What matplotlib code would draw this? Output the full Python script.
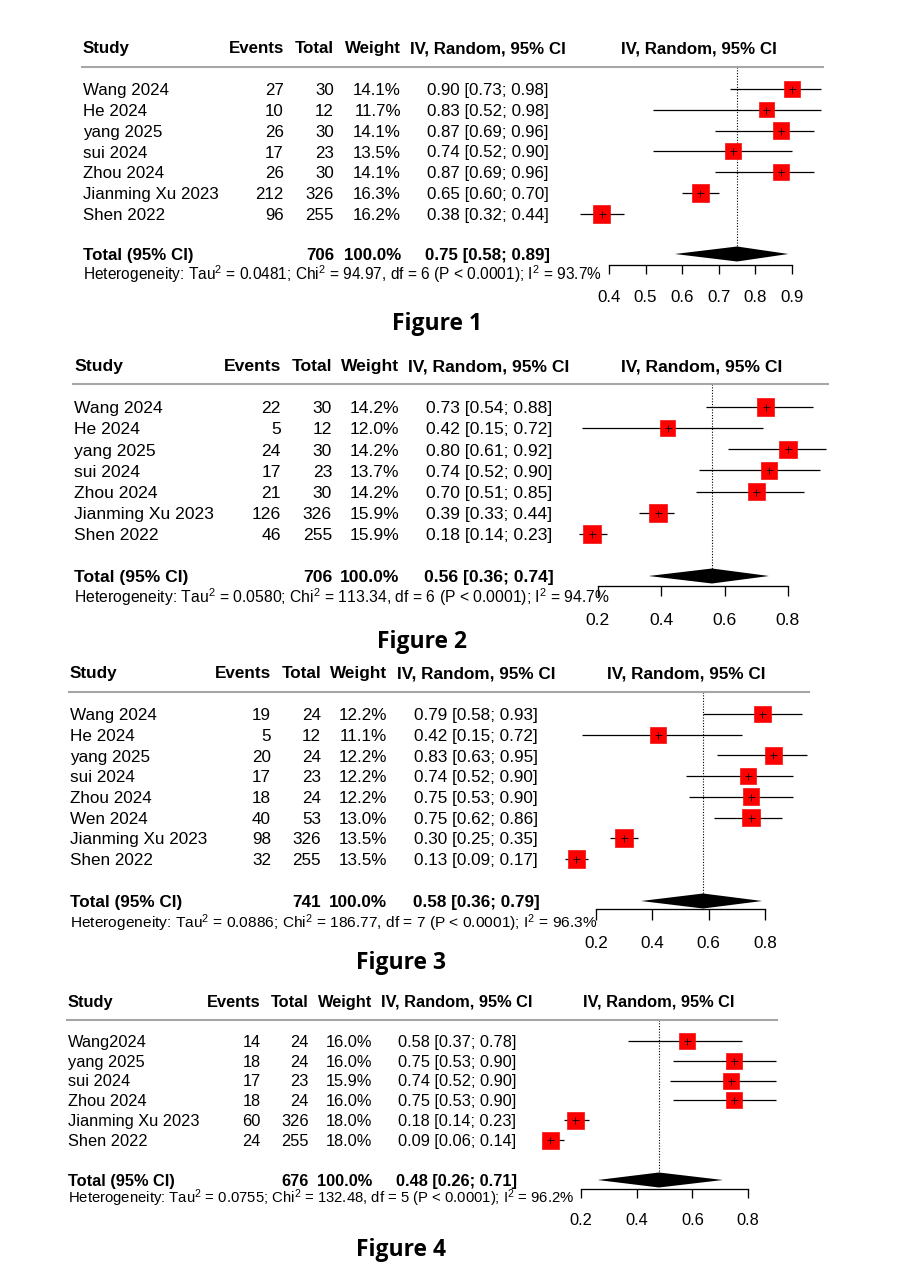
import matplotlib.pyplot as plt
from matplotlib.lines import Line2D
import numpy as np

plt.rcParams['font.family'] = ['Liberation Sans', 'DejaVu Sans']
plt.rcParams['mathtext.fontset'] = 'custom'
plt.rcParams['mathtext.rm'] = 'Liberation Sans'
plt.rcParams['mathtext.it'] = 'Liberation Sans:italic'
plt.rcParams['mathtext.bf'] = 'Liberation Sans:bold'

# ---- Figure 1 ----
studies1 = ['Wang 2024', 'He 2024', 'yang 2025', 'sui 2024', 'Zhou 2024', 'Jianming Xu 2023', 'Shen 2022']
events1 = [27, 10, 26, 17, 26, 212, 96]
totals1 = [30, 12, 30, 23, 30, 326, 255]
weights1 = [14.1, 11.7, 14.1, 13.5, 14.1, 16.3, 16.2]
est1 = [0.90, 0.83, 0.87, 0.74, 0.87, 0.65, 0.38]
lo1 = [0.73, 0.52, 0.69, 0.52, 0.69, 0.60, 0.32]
hi1 = [0.98, 0.98, 0.96, 0.90, 0.96, 0.70, 0.44]
pooled1 = [0.75, 0.58, 0.89]
het1 = ['0.0481', '94.97', '6', '93.7']
ticks1 = [0.4, 0.5, 0.6, 0.7, 0.8, 0.9]

# ---- Figure 2 ----
studies2 = ['Wang 2024', 'He 2024', 'yang 2025', 'sui 2024', 'Zhou 2024', 'Jianming Xu 2023', 'Shen 2022']
events2 = [22, 5, 24, 17, 21, 126, 46]
totals2 = [30, 12, 30, 23, 30, 326, 255]
weights2 = [14.2, 12.0, 14.2, 13.7, 14.2, 15.9, 15.9]
est2 = [0.73, 0.42, 0.80, 0.74, 0.70, 0.39, 0.18]
lo2 = [0.54, 0.15, 0.61, 0.52, 0.51, 0.33, 0.14]
hi2 = [0.88, 0.72, 0.92, 0.90, 0.85, 0.44, 0.23]
pooled2 = [0.56, 0.36, 0.74]
het2 = ['0.0580', '113.34', '6', '94.7']
ticks2 = [0.2, 0.4, 0.6, 0.8]

# ---- Figure 3 ----
studies3 = ['Wang 2024', 'He 2024', 'yang 2025', 'sui 2024', 'Zhou 2024', 'Wen 2024', 'Jianming Xu 2023', 'Shen 2022']
events3 = [19, 5, 20, 17, 18, 40, 98, 32]
totals3 = [24, 12, 24, 23, 24, 53, 326, 255]
weights3 = [12.2, 11.1, 12.2, 12.2, 12.2, 13.0, 13.5, 13.5]
est3 = [0.79, 0.42, 0.83, 0.74, 0.75, 0.75, 0.30, 0.13]
lo3 = [0.58, 0.15, 0.63, 0.52, 0.53, 0.62, 0.25, 0.09]
hi3 = [0.93, 0.72, 0.95, 0.90, 0.90, 0.86, 0.35, 0.17]
pooled3 = [0.58, 0.36, 0.79]
het3 = ['0.0886', '186.77', '7', '96.3']
ticks3 = [0.2, 0.4, 0.6, 0.8]

# ---- Figure 4 ----
studies4 = ['Wang2024', 'yang 2025', 'sui 2024', 'Zhou 2024', 'Jianming Xu 2023', 'Shen 2022']
events4 = [14, 18, 17, 18, 60, 24]
totals4 = [24, 24, 23, 24, 326, 255]
weights4 = [16.0, 16.0, 15.9, 16.0, 18.0, 18.0]
est4 = [0.58, 0.75, 0.74, 0.75, 0.18, 0.09]
lo4 = [0.37, 0.53, 0.52, 0.53, 0.14, 0.06]
hi4 = [0.78, 0.90, 0.90, 0.90, 0.23, 0.14]
pooled4 = [0.48, 0.26, 0.71]
het4 = ['0.0755', '132.48', '5', '96.2']
ticks4 = [0.2, 0.4, 0.6, 0.8]

data = [
    (studies1, events1, totals1, weights1, est1, lo1, hi1, pooled1, het1, ticks1),
    (studies2, events2, totals2, weights2, est2, lo2, hi2, pooled2, het2, ticks2),
    (studies3, events3, totals3, weights3, est3, lo3, hi3, pooled3, het3, ticks3),
    (studies4, events4, totals4, weights4, est4, lo4, hi4, pooled4, het4, ticks4),
]

# pixel layout of each pasted panel
layout = [
    dict(x0=83, ev=284, tot=334, wt=401, ci=488, fs=12.2, hy=47, ly=67, lx1=823, r0=89, dy=20.8,
         ty=254, gy=274, axy=265, px0=609, px1=792, tlen=9, laby=296, rh=699, smax=17.5, fxy=(437, 322)),
    dict(x0=74, ev=281, tot=332, wt=399, ci=489, fs=12.6, hy=365, ly=384, lx1=828, r0=407, dy=21.15,
         ty=576, gy=597, axy=586, px0=598, px1=788, tlen=10, laby=619, rh=702, smax=18, fxy=(422, 640)),
    dict(x0=70, ev=271, tot=321, wt=387, ci=476, fs=12.3, hy=672, ly=692, lx1=809, r0=714, dy=20.7,
         ty=901, gy=922, axy=909, px0=596, px1=765, tlen=11, laby=942, rh=686, smax=17.5, fxy=(401, 961)),
    dict(x0=68, ev=261, tot=309, wt=372, ci=457, fs=11.75, hy=1001, ly=1020, lx1=777, r0=1041, dy=19.8,
         ty=1180, gy=1198, axy=1189, px0=581, px1=748, tlen=9, laby=1219, rh=659, smax=17, fxy=(401, 1248)),
]
het_scale = [0.915, 0.90, 0.905, 0.91]

W, H = 904, 1280
fig = plt.figure(figsize=(W / 100, H / 100), dpi=100)


def put(x, y, s, fs, **kw):
    # y is the visual middle of the capitals, in pixels from the top
    base = y + 0.36 * fs * 100 / 72
    fig.text(x / W, 1 - base / H, s, fontsize=fs, va='baseline', **kw)


for k, ((studies, events, totals, weights, est, lo, hi, pooled, het, ticks), L) in enumerate(zip(data, layout)):
    fs = L['fs']
    # header
    put(L['x0'], L['hy'], 'Study', fs, weight='bold')
    put(L['ev'], L['hy'], 'Events', fs, weight='bold', ha='right')
    put(L['tot'], L['hy'], 'Total', fs, weight='bold', ha='right')
    put(L['wt'], L['hy'], 'Weight', fs, weight='bold', ha='right')
    put(L['ci'], L['hy'], 'IV, Random, 95% CI', fs, weight='bold', ha='center')
    put(L['rh'], L['hy'], 'IV, Random, 95% CI', fs, weight='bold', ha='center')
    fig.add_artist(Line2D([(L['x0'] - 1) / W, L['lx1'] / W], [1 - L['ly'] / H] * 2,
                          color='#a6a6a6', lw=1.5))

    # study rows
    for i, name in enumerate(studies):
        y = L['r0'] + i * L['dy']
        put(L['x0'], y, name, fs)
        put(L['ev'], y, str(events[i]), fs, ha='right')
        put(L['tot'], y, str(totals[i]), fs, ha='right')
        put(L['wt'], y, f'{weights[i]:.1f}%', fs, ha='right')
        put(L['ci'], y, f'{est[i]:.2f} [{lo[i]:.2f}; {hi[i]:.2f}]', fs, ha='center')

    # total row
    put(L['x0'], L['ty'], 'Total (95% CI)', fs, weight='bold')
    put(L['tot'], L['ty'], str(sum(totals)), fs, weight='bold', ha='right')
    put(L['wt'], L['ty'], '100.0%', fs, weight='bold', ha='right')
    put(L['ci'], L['ty'], f'{pooled[0]:.2f} [{pooled[1]:.2f}; {pooled[2]:.2f}]', fs, weight='bold', ha='center')
    het_txt = (r'Heterogeneity: Tau$^\mathregular{2}$ = ' + het[0] + r'; Chi$^\mathregular{2}$ = ' + het[1]
               + ', df = ' + het[2] + r' (P < 0.0001); I$^\mathregular{2}$ = ' + het[3] + '%')
    put(L['x0'], L['gy'], het_txt, fs * het_scale[k])

    # forest part
    ax = fig.add_axes([L['px0'] / W, 1 - L['axy'] / H, (L['px1'] - L['px0']) / W, (L['axy'] - L['ly']) / H])
    ax.patch.set_visible(False)
    ax.set_xlim(ticks[0], ticks[-1])
    ax.set_ylim((L['axy'] - L['r0']) / L['dy'], (L['ly'] - L['r0']) / L['dy'])
    rows = np.arange(len(studies))
    ax.hlines(rows, lo, hi, color='black', lw=0.9, clip_on=False, zorder=2)
    w = np.array(weights)
    side = L['smax'] * np.sqrt(w / w.max()) * 0.72
    ax.scatter(est, rows, s=side ** 2, marker='s', color='#ff0000', edgecolors='#f21010',
               linewidths=0.5, clip_on=False, zorder=3)
    ax.scatter(est, rows, s=(7 * 0.72) ** 2, marker='+', color='black', linewidths=0.6,
               clip_on=False, zorder=4)
    yd = (L['ty'] - L['r0']) / L['dy']
    hh = 7.5 / L['dy']
    ax.fill([pooled[1], pooled[0], pooled[2], pooled[0]], [yd, yd - hh, yd, yd + hh],
            color='black', lw=0, clip_on=False, zorder=3)
    ax.vlines(pooled[0], (L['ly'] - L['r0']) / L['dy'], yd, color='black', lw=0.8,
              linestyles=(0, (1, 1.5)), zorder=1, clip_on=False)

    for s in ['top', 'left', 'right']:
        ax.spines[s].set_visible(False)
    ax.spines['bottom'].set_linewidth(0.95)
    ax.set_yticks([])
    fs_px = fs * 100 / 72
    pad = (L['laby'] - 0.371 * fs_px - L['axy'] - L['tlen']) * 0.72
    ax.set_xticks(ticks, labels=[f'{t:.1f}' for t in ticks])
    ax.tick_params(axis='x', direction='out', length=L['tlen'] * 0.72, width=0.95,
                   labelsize=fs, pad=pad)

    put(L['fxy'][0], L['fxy'][1], f'Figure {k + 1}', 16.5, family='Open Sans', weight='bold', ha='center')

plt.savefig('out.png', dpi=100)
